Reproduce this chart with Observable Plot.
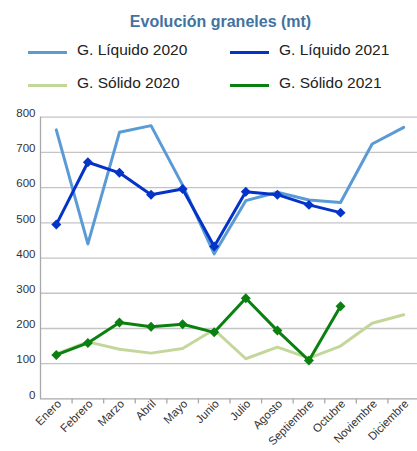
<!DOCTYPE html>
<html>
<head>
<meta charset="utf-8">
<script src="https://cdn.jsdelivr.net/npm/d3@7"></script>
<script src="https://cdn.jsdelivr.net/npm/@observablehq/plot@0.6"></script>
<style>
  html, body { margin: 0; padding: 0; background: #fff; }
  body { width: 417px; height: 451px; position: relative; overflow: hidden; font-family: "Liberation Sans", Arial, sans-serif; }
  #title { position: absolute; left: 0; top: 13px; width: 441px; text-align: center; font-weight: bold; font-size: 16px; color: #44729f; }
  .leg { position: absolute; font-size: 15.5px; color: #222; white-space: nowrap; }
  .sw { position: absolute; height: 3px; width: 39px; }
  #chart { position: absolute; left: 0; top: 100px; }
</style>
</head>
<body>
<div id="title">Evolución graneles (mt)</div>
<div id="legend"></div>
<div id="chart"></div>
<script>
const months = ["Enero","Febrero","Marzo","Abril","Mayo","Junio","Julio","Agosto","Septiembre","Octubre","Noviembre","Diciembre"];
const seriesNames = ["G. Líquido 2020","G. Líquido 2021","G. Sólido 2020","G. Sólido 2021"];
const seriesColors = ["#5b9bd5","#0433c8","#c4d79b","#0a8010"];
const liquido2020 = [764, 440, 757, 776, 607, 412, 563, 587, 565, 558, 724, 771];
const liquido2021 = [495, 672, 642, 580, 596, 433, 588, 580, 551, 529];
const solido2020 = [128, 162, 141, 130, 143, 197, 114, 147, 116, 150, 215, 239];
const solido2021 = [125, 159, 217, 205, 212, 189, 286, 194, 109, 263];
const yTicks = [0, 100, 200, 300, 400, 500, 600, 700, 800];

// legend
const legendPos = [[28, 41], [230, 41], [28, 74], [230, 74]];
const legend = document.getElementById("legend");
seriesNames.forEach((name, i) => {
  const [lx, ly] = legendPos[i];
  const sw = document.createElement("div");
  sw.className = "sw";
  sw.style.left = lx + "px";
  sw.style.top = (ly + 10) + "px";
  sw.style.background = seriesColors[i];
  legend.appendChild(sw);
  const t = document.createElement("div");
  t.className = "leg";
  t.style.left = (lx + 49) + "px";
  t.style.top = ly + "px";
  t.textContent = name;
  legend.appendChild(t);
});

const toRows = (vals, s) => vals.map((v, i) => ({i, month: months[i], value: v, series: s}));
const rows = [
  ...toRows(liquido2020, seriesNames[0]),
  ...toRows(liquido2021, seriesNames[1]),
  ...toRows(solido2020, seriesNames[2]),
  ...toRows(solido2021, seriesNames[3])
];
const idx = d3.range(months.length);
const bounds = d3.range(months.length + 1).map(i => i - 0.5);

const chart = Plot.plot({
  width: 417,
  height: 351,
  marginTop: 16.7,
  marginBottom: 52.6,
  marginLeft: 40,
  marginRight: 0,
  style: {fontFamily: "Liberation Sans, Arial, sans-serif", fontSize: "11px", color: "#333", background: "transparent", overflow: "visible"},
  x: {type: "linear", domain: [-0.5, 11.5], range: [40, 419], axis: null},
  y: {domain: [0, 800], axis: null},
  color: {domain: seriesNames, range: seriesColors},
  marks: [
    Plot.ruleY(yTicks.filter(d => d > 0), {stroke: "#c4c4c4", strokeWidth: 1.3}),
    Plot.axisY(yTicks, {tickSize: 0, tickPadding: 5, dy: -4, fill: "#333", fontSize: 11.5, label: null}),
    Plot.ruleX([-0.5], {y1: 0, y2: 800, stroke: "#a8a8a8", strokeWidth: 1.3}),
    Plot.axisX(bounds.slice(1), {tickSize: 5, tickFormat: () => "", stroke: "#a8a8a8", strokeWidth: 1.3, label: null}),
    Plot.axisX(idx, {tickSize: 0, tickFormat: i => months[i], tickRotate: -45, tickPadding: 4, dx: 3, dy: -1, fontSize: 11.5, fill: "#333", label: null}),
    Plot.ruleY([0], {stroke: "#a8a8a8", strokeWidth: 1.3}),
    Plot.line(rows.filter(d => d.series === seriesNames[0]), {x: "i", y: "value", stroke: seriesColors[0], strokeWidth: 3}),
    Plot.line(rows.filter(d => d.series === seriesNames[2]), {x: "i", y: "value", stroke: seriesColors[2], strokeWidth: 3}),
    Plot.line(rows.filter(d => d.series === seriesNames[1]), {x: "i", y: "value", stroke: seriesColors[1], strokeWidth: 3}),
    Plot.dot(rows.filter(d => d.series === seriesNames[1]), {x: "i", y: "value", fill: seriesColors[1], symbol: "diamond2", r: 4.5}),
    Plot.line(rows.filter(d => d.series === seriesNames[3]), {x: "i", y: "value", stroke: seriesColors[3], strokeWidth: 3}),
    Plot.dot(rows.filter(d => d.series === seriesNames[3]), {x: "i", y: "value", fill: seriesColors[3], symbol: "diamond2", r: 4.5})
  ]
});
document.getElementById("chart").appendChild(chart);
</script>
</body>
</html>
